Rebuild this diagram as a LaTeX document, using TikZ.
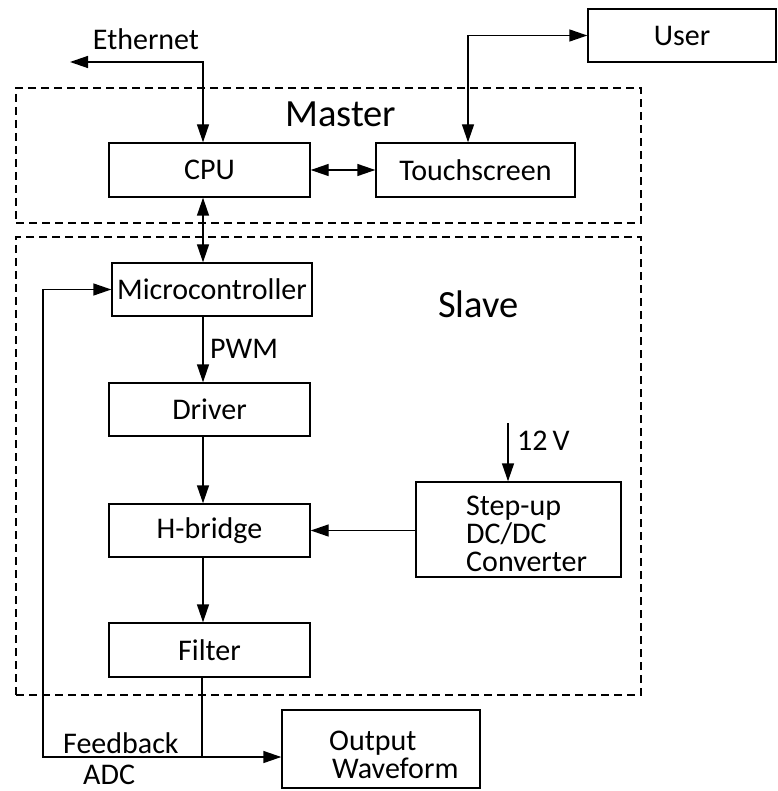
\documentclass[tikz,border=0pt]{standalone}
\usepackage{fontspec}
\setmainfont{Carlito}
\usetikzlibrary{arrows.meta}
\begin{document}
\begin{tikzpicture}[x=1pt,y=-1pt,
  box/.style={draw, line width=1.4pt, inner sep=0pt, font=\fontsize{30}{30}\selectfont},
  txt/.style={inner sep=0pt, font=\fontsize{30}{28}\selectfont},
  big/.style={inner sep=0pt, font=\fontsize{38.5}{40}\selectfont},
  conn/.style={line width=1.4pt, -{Triangle[length=18pt,width=12pt]}},
  dconn/.style={line width=1.4pt, {Triangle[length=18pt,width=12pt]}-{Triangle[length=18pt,width=12pt]}},
  plain/.style={line width=1.4pt},
  group/.style={draw, dashed, line width=1.4pt, dash pattern=on 8pt off 5pt}
]
\useasboundingbox (0,0) rectangle (777,791);
% groups
\node[group, minimum width=625pt, minimum height=135pt, inner sep=0pt] (master) at (328.5,155.5) {};
\node[group, minimum width=625pt, minimum height=458pt, inner sep=0pt] (slave) at (328.5,466) {};
\node[big, anchor=base west] (masterlbl) at (285,127) {Master};
\node[big, anchor=base west] (slavelbl) at (438,317) {Slave};
% boxes
\node[box, minimum width=201pt, minimum height=54pt] (cpu) at (209.5,170) {CPU};
\node[box, minimum width=199pt, minimum height=54pt] (touch) at (475.5,170) {Touchscreen};
\node[box, minimum width=188pt, minimum height=53pt] (user) at (682,35.5) {User};
\node[box, minimum width=200pt, minimum height=53pt] (micro) at (212,289.5) {Microcontroller};
\node[box, minimum width=201pt, minimum height=53pt] (driver) at (209.5,409.5) {Driver};
\node[box, minimum width=201pt, minimum height=53pt] (hb) at (209.5,530.5) {H-bridge};
\node[box, minimum width=205pt, minimum height=95pt] (step) at (518.5,529.5) {};
\node[txt, anchor=base west, align=left] (steptxt) at (466,571) {Step-up\\DC/DC\\Converter};
\node[box, minimum width=201pt, minimum height=54pt] (filter) at (209.5,650) {Filter};
\node[box, minimum width=198pt, minimum height=78pt] (output) at (381,749) {};
\node[txt, anchor=base west, align=left] (outtxt) at (329,778) {Output\\\hspace{3pt}Waveform};
% labels
\node[txt, anchor=base] (ethlbl) at (146,50) {Ethernet};
\node[txt, anchor=base west] (pwmlbl) at (210,358) {PWM};
\node[txt, anchor=base west] (vlbl) at (517,450) {12\,V};
\node[txt, anchor=base west] (fblbl) at (63,753) {Feedback};
\node[txt, anchor=base west] (adclbl) at (83,784) {ADC};
% coordinates
\coordinate (xl) at (203,0);
\coordinate (eth) at (70,62);
\coordinate (ux) at (468,0);
\coordinate (v12) at (508,423);
\coordinate (j) at (202,757);
\coordinate (fb) at (43,757);
% connectors
\draw[dconn] (cpu.north -| xl) |- (eth);
\draw[dconn] (cpu.east) -- (touch.west);
\draw[dconn] (touch.north -| ux) |- (user.west);
\draw[dconn] (cpu.south -| xl) -- (micro.north -| xl);
\draw[conn] (micro.south -| xl) -- (driver.north -| xl);
\draw[conn] (driver.south -| xl) -- (hb.north -| xl);
\draw[conn] (hb.south -| xl) -- (filter.north -| xl);
\draw[conn] (step.west |- hb.east) -- (hb.east);
\draw[conn] (v12) -- (step.north -| v12);
\draw[plain] (filter.south -| j) -- (j);
\draw[conn] (j) -- (output.west |- j);
\draw[conn] (j) -- (fb) |- (micro.west);
\end{tikzpicture}
\end{document}
